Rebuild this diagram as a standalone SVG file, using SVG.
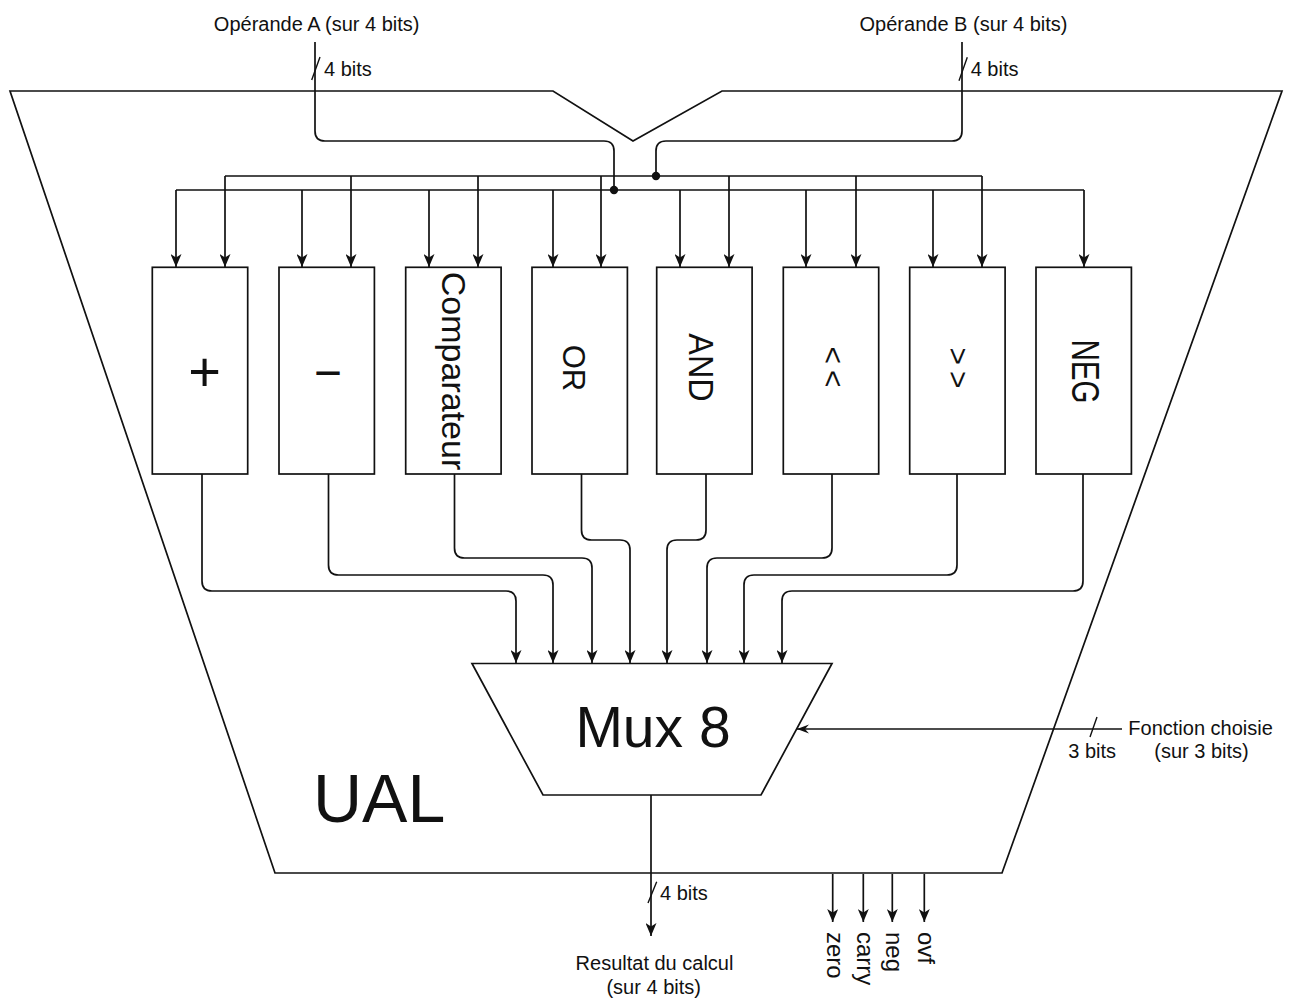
<svg xmlns="http://www.w3.org/2000/svg" width="1292" height="1001" viewBox="0 0 1292 1001">
<defs>
<marker id="arr" viewBox="0 0 13 11" refX="13" refY="5.5" markerWidth="13" markerHeight="11" markerUnits="userSpaceOnUse" orient="auto"><path d="M0,0 L13,5.5 L0,11 L3.5,5.5 Z" fill="#111"/></marker>
<marker id="arr2" viewBox="0 0 12 10" refX="12" refY="5" markerWidth="12" markerHeight="10" markerUnits="userSpaceOnUse" orient="auto"><path d="M0,0.5 L12,5 L0,9.5 L4,5 Z" fill="#111"/></marker>
</defs>
<style>
.ln{fill:none;stroke:#111;stroke-width:1.7}
.tk{fill:none;stroke:#111;stroke-width:1.4}
.box{fill:#fff;stroke:#111;stroke-width:1.7}
.t{font-family:"Liberation Sans",Arial,sans-serif;font-size:20px;fill:#111}
.big{font-family:"Liberation Sans",Arial,sans-serif;fill:#111}
.a{marker-end:url(#arr)}
</style>
<rect width="1292" height="1001" fill="#fff"/>
<g id="ual">
<polygon class="box" points="10,91 553,91 633,141 722,91 1282,91 1002,873 275,873"/>
<text class="big" x="313" y="822" font-size="68">UAL</text>
</g>
<g id="labels">
<text class="t" x="316.7" y="30.5" text-anchor="middle">Opérande A (sur 4 bits)</text>
<text class="t" x="963.5" y="30.5" text-anchor="middle">Opérande B (sur 4 bits)</text>
<text class="t" x="324" y="76">4 bits</text>
<text class="t" x="970.7" y="76">4 bits</text>
<text class="t" x="1128.3" y="735">Fonction choisie</text>
<text class="t" x="1201.5" y="758" text-anchor="middle">(sur 3 bits)</text>
<text class="t" x="1068.3" y="758">3 bits</text>
<text class="t" x="660" y="900">4 bits</text>
<text class="t" x="654.5" y="970" text-anchor="middle">Resultat du calcul</text>
<text class="t" x="653.7" y="994" text-anchor="middle">(sur 4 bits)</text>
</g>
<g id="connectors">
<path class="ln" d="M315,42 V131 Q315,141 325,141 H604 Q614,141 614,151 V190"/>
<path class="ln" d="M962,42 V131 Q962,141 952,141 H666 Q656,141 656,151 V176"/>
<path class="tk" d="M311.7,80 L320,57 M959,80.7 L967.3,57.3 M648,903 L656.7,881.7 M1090,737 L1097,717"/>
<path class="ln" d="M176,190 H1084 M225,176 H982"/>
<circle cx="614" cy="190" r="4.2" fill="#111"/>
<circle cx="656" cy="176" r="4.2" fill="#111"/>
<path class="ln a" d="M176,190 V267"/>
<path class="ln a" d="M302,190 V267"/>
<path class="ln a" d="M429,190 V267"/>
<path class="ln a" d="M553,190 V267"/>
<path class="ln a" d="M680,190 V267"/>
<path class="ln a" d="M806,190 V267"/>
<path class="ln a" d="M933,190 V267"/>
<path class="ln a" d="M1084,190 V267"/>
<path class="ln a" d="M225,176 V267"/>
<path class="ln a" d="M351,176 V267"/>
<path class="ln a" d="M478,176 V267"/>
<path class="ln a" d="M601,176 V267"/>
<path class="ln a" d="M729,176 V267"/>
<path class="ln a" d="M856,176 V267"/>
<path class="ln a" d="M982,176 V267"/>
<path class="ln a" d="M202,474 V581 Q202,591 212,591 H506 Q516,591 516,601 V663"/>
<path class="ln a" d="M328.5,474 V565 Q328.5,575 338.5,575 H543 Q553,575 553,585 V663"/>
<path class="ln a" d="M454.5,474 V548 Q454.5,558 464.5,558 H582 Q592,558 592,568 V663"/>
<path class="ln a" d="M581.5,474 V530 Q581.5,540 591.5,540 H620 Q630,540 630,550 V663"/>
<path class="ln a" d="M706,474 V530 Q706,540 696,540 H677 Q667,540 667,550 V663"/>
<path class="ln a" d="M832,474 V548 Q832,558 822,558 H717 Q707,558 707,568 V663"/>
<path class="ln a" d="M957,474 V565 Q957,575 947,575 H754 Q744,575 744,585 V663"/>
<path class="ln a" d="M1083,474 V581 Q1083,591 1073,591 H792 Q782,591 782,601 V663"/>
<path class="ln a" d="M651,795 V936"/>
<path class="ln" d="M1122,729 H797" marker-end="url(#arr2)"/>
<path class="ln a" d="M832.7,874 V922"/>
<path class="ln a" d="M863.3,874 V922"/>
<path class="ln a" d="M892.3,874 V922"/>
<path class="ln a" d="M924.3,874 V922"/>
</g>
<g id="add"><rect class="box" x="152.3" y="267.3" width="95.4" height="206.7"/><text class="big" x="204.5" y="390.7" font-size="56" text-anchor="middle">+</text></g>
<g id="sub"><rect class="box" x="279" y="267.3" width="95.4" height="206.7"/><text class="big" x="327.7" y="389" font-size="48" text-anchor="middle">−</text></g>
<g id="cmp"><rect class="box" x="405.7" y="267.3" width="95.4" height="206.7"/><text class="big" font-size="34" text-anchor="middle" transform="translate(441.7,371) rotate(90)">Comparateur</text></g>
<g id="or"><rect class="box" x="532" y="267.3" width="95.4" height="206.7"/><text class="big" font-size="31" text-anchor="middle" transform="translate(563,368) rotate(90)">OR</text></g>
<g id="and"><rect class="box" x="656.7" y="267.3" width="95.4" height="206.7"/><text class="big" font-size="36" text-anchor="middle" transform="translate(688.5,367.5) rotate(90) scale(0.9,1)">AND</text></g>
<g id="shl"><rect class="box" x="783.3" y="267.3" width="95.4" height="206.7"/><text class="big" font-size="30" text-anchor="middle" letter-spacing="6" transform="translate(822.8,370) rotate(90)">&lt;&lt;</text></g>
<g id="shr"><rect class="box" x="909.7" y="267.3" width="95.4" height="206.7"/><text class="big" font-size="30" text-anchor="middle" letter-spacing="6" transform="translate(947.8,371) rotate(90)">&gt;&gt;</text></g>
<g id="neg"><rect class="box" x="1036" y="267.3" width="95.4" height="206.7"/><text class="big" font-size="38" text-anchor="middle" transform="translate(1072,371.5) rotate(90) scale(0.78,1)">NEG</text></g>
<g id="mux"><polygon class="box" points="472,663.5 832,663.5 761,795 543,795"/><text class="big" x="653" y="747" font-size="57" text-anchor="middle">Mux 8</text></g>
<g id="flags">
<text class="t" transform="translate(826.5,932) rotate(90)" style="font-size:24px">zero</text>
<text class="t" transform="translate(857,932) rotate(90)" style="font-size:24px">carry</text>
<text class="t" transform="translate(886,932) rotate(90)" style="font-size:24px">neg</text>
<text class="t" transform="translate(918.3,932) rotate(90)" style="font-size:24px">ovf</text>
</g>
</svg>
